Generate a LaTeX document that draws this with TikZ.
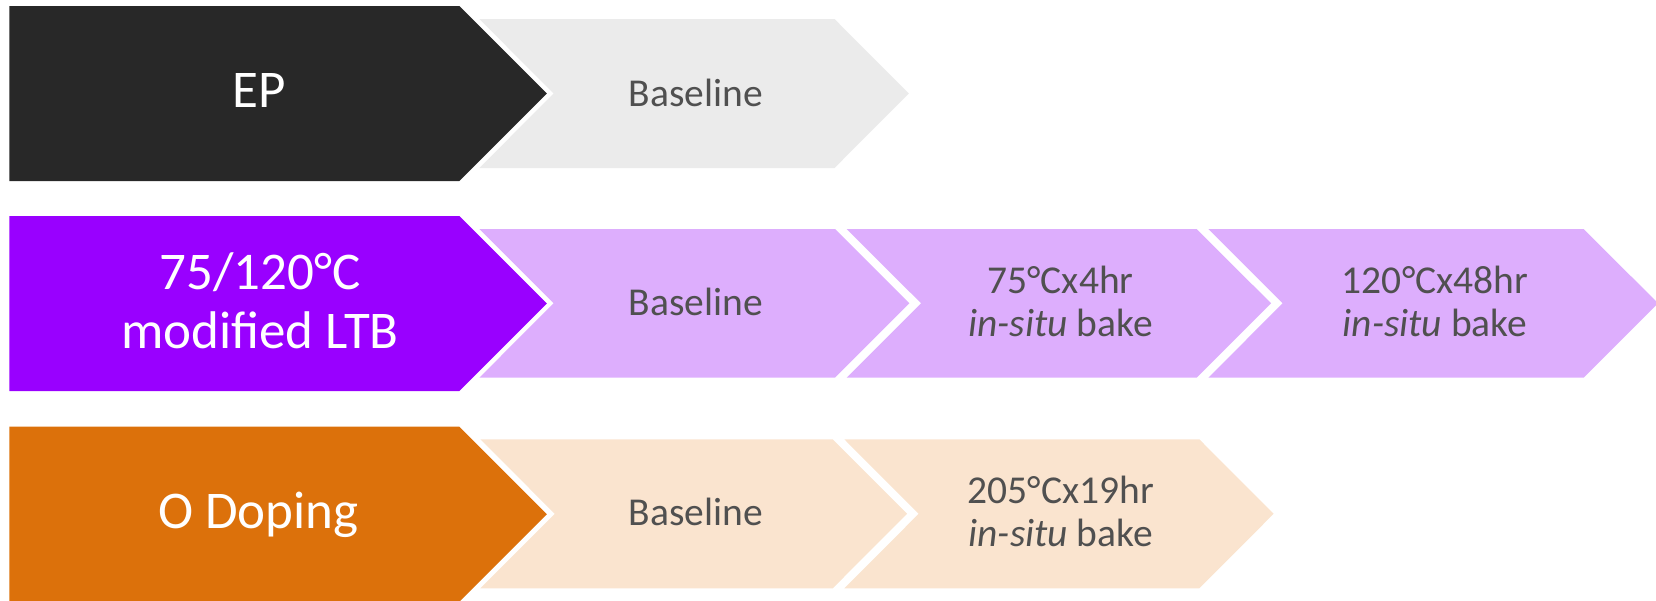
\documentclass[tikz,border=0pt]{standalone}
\usepackage{fontspec}
\setmainfont{Carlito}
\definecolor{epblack}{HTML}{282828}
\definecolor{epgrey}{HTML}{EBEBEB}
\definecolor{ltbpurple}{HTML}{9900FF}
\definecolor{ltblilac}{HTML}{DDAEFD}
\definecolor{odorange}{HTML}{DC710B}
\definecolor{odpeach}{HTML}{FAE4CF}
\definecolor{txtgrey}{HTML}{505050}
\tikzset{
  primtext/.style={text=white, font=\fontsize{53}{59}\selectfont, anchor=base, inner sep=0pt},
  sectext/.style={text=txtgrey, font=\fontsize{39.5}{43.4}\selectfont, anchor=base, inner sep=0pt},
}
% primary chevron: top, mid, bot, colour
\newcommand\myprimchev[4]{%
  \fill[#4] (9.3,#1) -- (459.3,#1) -- (546.8,#2) -- (459.3,#3) -- (9.3,#3) -- cycle;}
% secondary chevron: xl, xr, top, mid, bot, colour
\newcommand\mysecchev[6]{%
  \fill[#6] (#1,#3) -- (#2,#3) -- ({#2+74.35},#4) -- (#2,#5) -- (#1,#5) -- ({#1+74.35},#4) -- cycle;}
\newcommand\twolines[2]{\begin{tabular}[t]{@{}c@{}}#1\\#2\end{tabular}}
\begin{document}
\begin{tikzpicture}[x=1pt,y=-1pt]
\useasboundingbox (0,0) rectangle (1656,600);
\clip (0,0) rectangle (1656,600);
% Row 1: EP
\mysecchev{479.3}{834.5}{19}{93.5}{168}{epgrey}
\myprimchev{6}{93.5}{181}{epblack}
\node[primtext] (ep) at (259,107.3) {EP};
\node[sectext] (epbase) at (696,106) {Baseline};
% Row 2: 75/120C modified LTB
\mysecchev{1208.3}{1583.7}{229}{303.3}{377.7}{ltblilac}
\mysecchev{846.7}{1196.7}{229}{303.3}{377.7}{ltblilac}
\mysecchev{479.3}{835}{229}{303.3}{377.7}{ltblilac}
\myprimchev{216}{303.5}{391}{ltbpurple}
\node[primtext] (ltb) at (260,289.3) {\twolines{75/120°C}{modified LTB}};
\node[sectext] (ltbbase) at (696,315) {Baseline};
\node[sectext] (ltbsev) at (1060.5,293.3) {\twolines{75°Cx4hr}{\textit{in-situ} bake}};
\node[sectext] (ltbone) at (1435,293.3) {\twolines{120°Cx48hr}{\textit{in-situ} bake}};
% Row 3: O Doping
\mysecchev{844.3}{1199.3}{439.3}{513.8}{588.3}{odpeach}
\mysecchev{480.4}{832.7}{439.3}{513.8}{588.3}{odpeach}
\myprimchev{426.7}{514.2}{601.7}{odorange}
\node[primtext] (od) at (258.5,528.5) {O Doping};
\node[sectext] (odbase) at (696,525.5) {Baseline};
\node[sectext] (odtwo) at (1060.8,503.3) {\twolines{205°Cx19hr}{\textit{in-situ} bake}};
\end{tikzpicture}
\end{document}
